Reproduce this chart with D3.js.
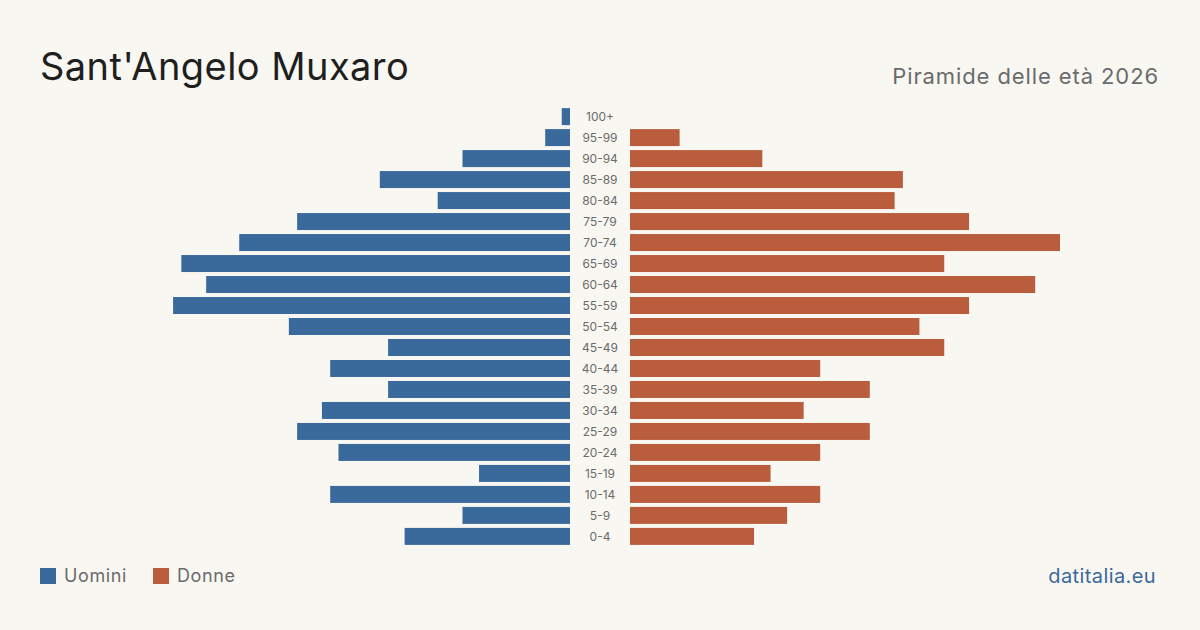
<!DOCTYPE html>
<html>
<head>
<meta charset="utf-8">
<script src="https://cdn.jsdelivr.net/npm/d3@7"></script>
<style>
  html, body { margin: 0; padding: 0; background: #f9f7f2; }
  svg { display: block; font-family: Inter, "Noto Sans", sans-serif; }
</style>
</head>
<body>
<div id="chart"></div>
<script>
// age classes, top (oldest) to bottom
const ageClasses = ["100+", "95-99", "90-94", "85-89", "80-84", "75-79", "70-74", "65-69", "60-64", "55-59",
  "50-54", "45-49", "40-44", "35-39", "30-34", "25-29", "20-24", "15-19", "10-14", "5-9", "0-4"];
const men   = [1, 3, 13, 23, 16, 33, 40, 47, 44, 48, 34, 22, 29, 22, 30, 33, 28, 11, 29, 13, 20];
const women = [0, 6, 16, 33, 32, 41, 52, 38, 49, 41, 35, 38, 23, 29, 21, 29, 23, 17, 23, 19, 15];
const legendLabels = ["Uomini", "Donne"];

const width = 1200, height = 630;
const blue = "#3a6a9b", red = "#b95d3d";
let center = 600, gap = 30; // half width of the label column

let svg = d3.select("#chart").append("svg")
  .attr("width", width).attr("height", height);

svg.append("rect").attr("width", width).attr("height", height).attr("fill", "#f9f7f2");

// title + subtitle
svg.append("text")
  .attr("x", 40).attr("y", 80)
  .attr("font-size", 38).attr("fill", "#1f1f1f")
  .attr("letter-spacing", 0.45)
  .text("Sant'Angelo Muxaro");

svg.append("text")
  .attr("x", 1159).attr("y", 84)
  .attr("text-anchor", "end")
  .attr("font-size", 22).attr("fill", "#6b6b6b")
  .attr("letter-spacing", 0.9)
  .text("Piramide delle età 2026");

// scales
let y = d3.scaleBand()
  .domain(ageClasses)
  .range([106, 547])
  .paddingInner(4 / 21)
  .paddingOuter(0.1);

let x = d3.scaleLinear()
  .domain([0, 52])
  .range([0, 430]);

let rows = svg.selectAll(".row")
  .data(ageClasses)
  .enter().append("g")
  .attr("class", "row")
  .attr("transform", d => "translate(0," + y(d) + ")");

// men on the left
rows.append("rect")
  .attr("x", (d, i) => center - gap - x(men[i]))
  .attr("width", (d, i) => x(men[i]))
  .attr("height", y.bandwidth())
  .attr("fill", blue);

// women on the right
rows.append("rect")
  .attr("x", center + gap)
  .attr("width", (d, i) => x(women[i]))
  .attr("height", y.bandwidth())
  .attr("fill", red);

rows.append("text")
  .attr("x", center)
  .attr("y", y.bandwidth() / 2)
  .attr("dy", "0.35em")
  .attr("text-anchor", "middle")
  .attr("font-size", 12)
  .attr("fill", "#6b6b6b")
  .text(d => d);

// legend
let legend = svg.selectAll(".legend")
  .data(legendLabels)
  .enter().append("g")
  .attr("class", "legend")
  .attr("transform", (d, i) => "translate(" + (40 + i * 113) + ",568)");

legend.append("rect")
  .attr("width", 16).attr("height", 16)
  .attr("fill", (d, i) => i == 0 ? blue : red);

legend.append("text")
  .attr("x", 24).attr("y", 8)
  .attr("dy", "0.35em")
  .attr("font-size", 18).attr("fill", "#6b6b6b")
  .attr("letter-spacing", 0.6)
  .text(d => d);

svg.append("text")
  .attr("x", 1156).attr("y", 583)
  .attr("text-anchor", "end")
  .attr("font-size", 20).attr("fill", blue)
  .attr("letter-spacing", 0.4)
  .text("datitalia.eu");
</script>
</body>
</html>
